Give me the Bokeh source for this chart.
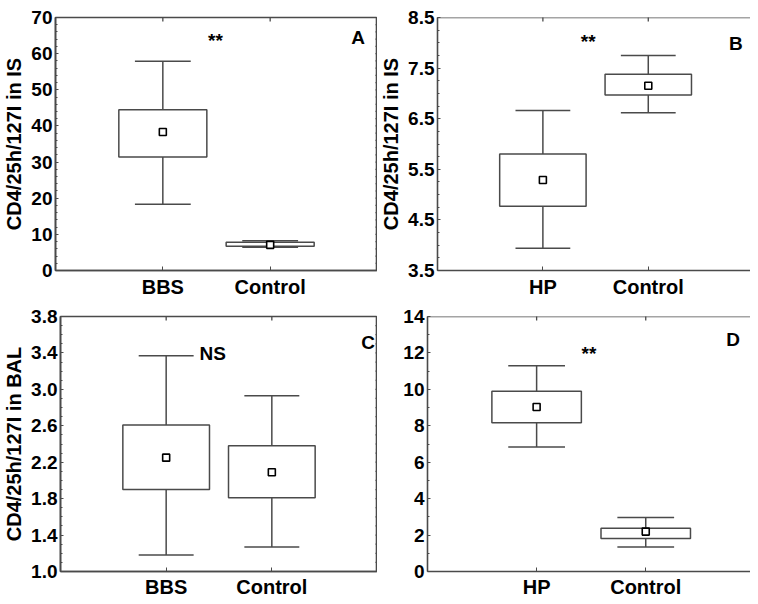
import math
from bokeh.plotting import figure
from bokeh.layouts import column, row
from bokeh.models import FixedTicker, Range1d, PrintfTickFormatter, Span
from bokeh.core.properties import value
from bokeh.embed import file_html
from bokeh.resources import INLINE

# ---------------- data ----------------
cats_A = ["BBS", "Control"]
low_A = [18.3, 6.4]
q1_A = [31.4, 6.7]
q3_A = [44.5, 7.8]
high_A = [57.9, 8.2]
mean_A = [38.3, 7.1]
yticks_A = [0, 10, 20, 30, 40, 50, 60, 70]

cats_B = ["HP", "Control"]
low_B = [3.94, 6.62]
q1_B = [4.77, 6.97]
q3_B = [5.80, 7.38]
high_B = [6.66, 7.75]
mean_B = [5.29, 7.15]
yticks_B = [3.5, 4.5, 5.5, 6.5, 7.5, 8.5]

cats_C = ["BBS", "Control"]
low_C = [1.18, 1.27]
q1_C = [1.90, 1.81]
q3_C = [2.61, 2.38]
high_C = [3.37, 2.93]
mean_C = [2.25, 2.09]
yticks_C = [1.0, 1.4, 1.8, 2.2, 2.6, 3.0, 3.4, 3.8]

cats_D = ["HP", "Control"]
low_D = [6.84, 1.34]
q1_D = [8.17, 1.81]
q3_D = [9.89, 2.38]
high_D = [11.29, 2.96]
mean_D = [9.03, 2.19]
yticks_D = [0, 2, 4, 6, 8, 10, 12, 14]

ylabel_IS = "CD4/25h/127I in IS"
ylabel_BAL = "CD4/25h/127I in BAL"

FONT = "Liberation Sans"
LINE = "#4a4a4a"


def panel(cats, low, q1, q3, high, mean, yticks, yminor, fmt, ylabel,
          sig, sig_xy, letter, letter_xy, w, h, bl, br, bt, bb, xend,
          full_frame, cat_standoff):
    pos = [1, 2]
    ybot, ytop = yticks[0], yticks[-1]
    p = figure(width=w, height=h, x_range=Range1d(0, xend),
               y_range=Range1d(ybot, ytop),
               output_backend="svg", toolbar_location=None,
               min_border_left=bl, min_border_right=br,
               min_border_top=bt, min_border_bottom=bb)
    p.xgrid.visible = False
    p.ygrid.visible = False
    p.background_fill_color = "white"
    p.border_fill_color = "white"
    if full_frame:
        p.outline_line_color = LINE
        p.outline_line_width = 1.6
        p.outline_line_alpha = 1.0
    else:
        p.outline_line_color = None
        p.add_layout(Span(location=ytop, dimension="width",
                          line_color=LINE, line_width=1.6))

    xa = p.xaxis[0]
    xa.ticker = FixedTicker(ticks=pos)
    xa.major_label_overrides = {1: cats[0], 2: cats[1]}
    xa.major_label_text_font = FONT
    xa.major_label_text_font_style = "bold"
    xa.major_label_text_font_size = "20px"
    xa.major_label_text_color = "black"
    xa.major_label_standoff = cat_standoff
    xa.major_tick_in = 4
    xa.major_tick_out = 0
    xa.minor_tick_line_color = None
    xa.axis_line_color = LINE
    xa.axis_line_width = 1.6
    xa.major_tick_line_color = LINE

    ya = p.yaxis[0]
    ya.ticker = FixedTicker(ticks=yticks, minor_ticks=yminor)
    ya.formatter = PrintfTickFormatter(format=fmt)
    ya.major_label_text_font = FONT
    ya.major_label_text_font_style = "bold"
    ya.major_label_text_font_size = "19px"
    ya.major_label_text_color = "black"
    ya.major_label_standoff = 3
    ya.major_tick_in = 3
    ya.major_tick_out = 0
    ya.minor_tick_in = 2
    ya.minor_tick_out = 0
    ya.axis_line_color = LINE
    ya.axis_line_width = 1.6
    ya.major_tick_line_color = LINE
    ya.minor_tick_line_color = LINE
    if ylabel:
        ya.axis_label = ylabel
        ya.axis_label_text_font = FONT
        ya.axis_label_text_font_style = "bold"
        ya.axis_label_text_font_size = "20px"
        ya.axis_label_text_color = "black"
        ya.axis_label_standoff = 3

    # inward tick marks on the top edge (at the categories) and right edge
    p.scatter(x=pos, y=[ytop] * len(pos), marker="dash", angle=math.pi / 2,
              size=8, line_color=LINE, line_width=1.3)
    if full_frame:
        p.scatter(x=[xend] * len(yminor), y=yminor, marker="dash", size=4,
                  line_color=LINE, line_width=1.2)

    # whiskers
    p.segment(x0=pos, y0=q3, x1=pos, y1=high, line_color=LINE, line_width=1.5)
    p.segment(x0=pos, y0=q1, x1=pos, y1=low, line_color=LINE, line_width=1.5)
    capl = [x - 0.26 for x in pos]
    capr = [x + 0.26 for x in pos]
    p.segment(x0=capl, y0=high, x1=capr, y1=high, line_color=LINE, line_width=1.5)
    p.segment(x0=capl, y0=low, x1=capr, y1=low, line_color=LINE, line_width=1.5)
    # boxes
    p.vbar(x=pos, width=0.82, bottom=q1, top=q3, fill_color="white",
           line_color=LINE, line_width=1.5)
    # mean markers
    p.scatter(x=pos, y=mean, marker="square", size=7, fill_color="white",
              line_color="black", line_width=1.6)

    p.text(x=[sig_xy[0]], y=[sig_xy[1]], text=[sig], text_font=value(FONT),
           text_font_style="bold", text_font_size="19px", text_color="black",
           text_align="center", text_baseline="middle")
    p.text(x=[letter_xy[0]], y=[letter_xy[1]], text=[letter], text_font=value(FONT),
           text_font_style="bold", text_font_size="19px", text_color="black",
           text_align="center", text_baseline="middle")
    return p


pA = panel(cats_A, low_A, q1_A, q3_A, high_A, mean_A, yticks_A,
           [v for v in range(0, 71, 2)], "%d", ylabel_IS,
           "**", (1.49, 63.5), "A", (2.82, 64.5),
           377, 300, 50, 0, 17, 28, 3.0, True, 5)
pB = panel(cats_B, low_B, q1_B, q3_B, high_B, mean_B, yticks_B,
           [3.5 + 0.25 * i for i in range(21)], "%.1f", ylabel_IS,
           "**", (1.43, 8.02), "B", (2.83, 7.99),
           373, 300, 51, 0, 13, 30, 2.97, False, 5)
pC = panel(cats_C, low_C, q1_C, q3_C, high_C, mean_C, yticks_C,
           [1.0 + 0.1 * i for i in range(29)], "%.1f", ylabel_BAL,
           "NS", (1.44, 3.39), "C", (2.91, 3.51),
           377, 300, 52, 0, 14, 27, 3.0, True, 4)
pD = panel(cats_D, low_D, q1_D, q3_D, high_D, mean_D, yticks_D,
           list(range(0, 15)), "%d", None,
           "**", (1.48, 11.95), "D", (2.8, 12.74),
           373, 300, 50, 0, 16, 25, 2.96, False, 4)

layout = column(row(pA, pB), row(pC, pD))
open("out.html", "w").write(file_html(layout, INLINE))
